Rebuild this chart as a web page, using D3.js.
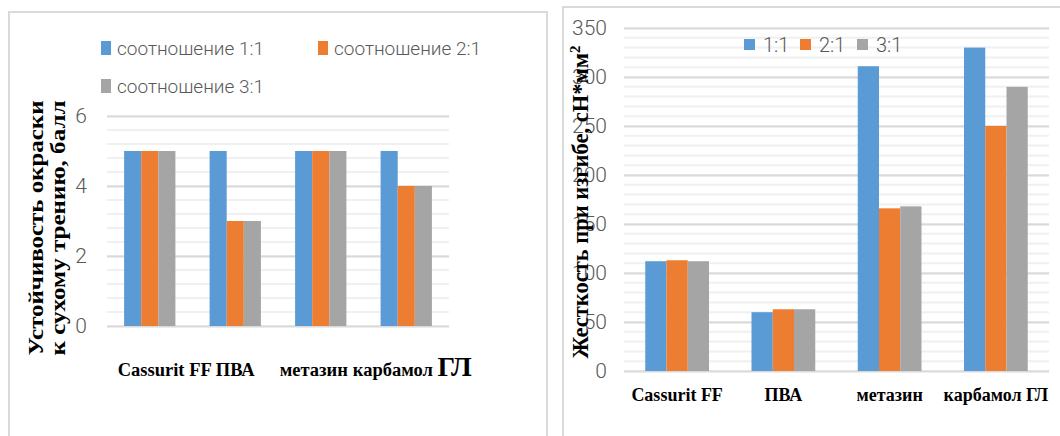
<!DOCTYPE html>
<html><head><meta charset="utf-8">
<script src="https://cdn.jsdelivr.net/npm/d3@7"></script>
<style>
html,body{margin:0;padding:0;background:#fff;}
svg{display:block;}
.tick text{font-family:"Roboto","Open Sans",sans-serif;font-weight:300;fill:#595959;}
.leg{font-family:"Roboto","Open Sans",sans-serif;font-weight:300;fill:#595959;}
.ser{font-family:"Liberation Serif","DejaVu Serif",serif;font-weight:bold;fill:#000;}
</style></head>
<body>
<svg id="c" width="1060" height="436"></svg>
<script>
// ---- data ----
const categories = ["Cassurit FF", "ПВА", "метазин", "карбамол ГЛ"];
const seriesKeys = ["1:1", "2:1", "3:1"];
const leftLegend = ["соотношение 1:1", "соотношение 2:1", "соотношение 3:1"];
const colors = ["#5B9BD5", "#ED7D31", "#A5A5A5"];
// Left chart: colour fastness to dry rubbing, points
const fast11 = [5, 5, 5, 5];
const fast21 = [5, 3, 5, 4];
const fast31 = [5, 3, 5, 4];
const leftTicks = [0, 2, 4, 6];
// Right chart: bending stiffness
const stiff11 = [112, 60, 311, 330];
const stiff21 = [113, 63, 166, 250];
const stiff31 = [112, 63, 168, 290];
const rightTicks = [0, 50, 100, 150, 200, 250, 300, 350];

const svg = d3.select("#c");

// panel borders
svg.append("rect").attr("x",9).attr("y",12).attr("width",538).attr("height",440)
  .attr("fill","none").attr("stroke","#d9d9d9").attr("stroke-width",2);
svg.append("rect").attr("x",563).attr("y",7).attr("width",510).attr("height",440)
  .attr("fill","none").attr("stroke","#d9d9d9").attr("stroke-width",2);

function chart(opt){
  const g = svg.append("g");
  const y = d3.scaleLinear().domain(opt.domain).range([opt.y0, opt.y1]);
  const x0 = d3.scaleBand().domain(categories).range([opt.x0, opt.x1]).paddingInner(0.4).paddingOuter(0.2);
  const x1 = d3.scaleBand().domain(seriesKeys).range([0, x0.bandwidth()]);
  // minor grid
  const minor = d3.range(opt.domain[0], opt.domain[1] + 1e-9, opt.minor);
  g.append("g").selectAll("line").data(minor).join("line")
    .attr("x1",opt.x0).attr("x2",opt.x1).attr("y1",d=>y(d)).attr("y2",d=>y(d))
    .attr("stroke","#f0f0f0").attr("stroke-width",2);
  // major grid + labels
  const ax = g.append("g").attr("transform",`translate(${opt.x0},0)`)
    .call(d3.axisLeft(y).tickValues(opt.ticks).tickFormat(d3.format("d"))
      .tickSize(-(opt.x1-opt.x0)).tickPadding(opt.tickPad));
  ax.select(".domain").remove();
  ax.selectAll(".tick line").attr("stroke","#d9d9d9").attr("stroke-width",2);
  ax.selectAll(".tick text").attr("font-size",opt.tickFont);
  // bars
  const data = categories.map((c,i)=>({c, vals: opt.series.map((s,k)=>({k:seriesKeys[k], v:s[i], col:colors[k]}))}));
  g.append("g").selectAll("g").data(data).join("g")
    .attr("transform",d=>`translate(${x0(d.c)},0)`)
    .selectAll("rect").data(d=>d.vals).join("rect")
    .attr("x",d=>x1(d.k)).attr("width",x1.bandwidth())
    .attr("y",d=>y(d.v)).attr("height",d=>y(0)-y(d.v))
    .attr("fill",d=>d.col);
  // x labels
  const xl = g.append("g").selectAll("text").data(categories).join("text")
    .attr("class","ser").attr("text-anchor","middle")
    .attr("x",(d,i)=>x0(d)+x0.bandwidth()/2+(opt.labShift?opt.labShift[i]:0)).attr("y",opt.xLabY)
    .attr("font-size",opt.xFont);
  xl.each(function(d){
    const t = d3.select(this);
    if (opt.bigGL && d.endsWith("ГЛ")) {
      t.append("tspan").text(d.slice(0,-2));
      t.append("tspan").attr("font-size",opt.xFont*1.5).text("ГЛ");
    } else t.text(d);
  });
  return {g,x0,y};
}

// LEFT CHART
const L = chart({domain:[0,6], y0:326, y1:116, x0:107, x1:449, minor:0.4, ticks:leftTicks,
  tickPad:20, tickFont:21, series:[fast11,fast21,fast31], xLabY:376, xFont:18.5, bigGL:true,
  labShift:[15,0,-7,6]});
// left y label
const ly = svg.append("text").attr("class","ser").attr("font-size",20).attr("text-anchor","middle")
  .attr("transform","rotate(-90)");
ly.append("tspan").attr("x",-228).attr("y",43).attr("textLength",255).attr("lengthAdjust","spacingAndGlyphs").text("Устойчивость окраски");
ly.append("tspan").attr("x",-228).attr("y",65).attr("textLength",255).attr("lengthAdjust","spacingAndGlyphs").text("к сухому трению, балл");
// left legend
const legPos = [[101,48],[318,48],[101,86]];
leftLegend.forEach((t,i)=>{
  svg.append("rect").attr("x",legPos[i][0]).attr("y",legPos[i][1]-7).attr("width",10).attr("height",14).attr("fill",colors[i]);
  svg.append("text").attr("class","leg").attr("x",legPos[i][0]+16).attr("y",legPos[i][1]+7)
    .attr("font-size",19).text(t);
});

// RIGHT CHART
const R = chart({domain:[0,350], y0:371, y1:28, x0:624, x1:1049, minor:10, ticks:rightTicks,
  tickPad:17, tickFont:21, series:[stiff11,stiff21,stiff31], xLabY:401, xFont:18, bigGL:false});
// right y label
const ry = svg.append("text").attr("class","ser").attr("font-size",22.5)
  .attr("text-anchor","middle").attr("transform","translate(588,202) rotate(-90)");
ry.append("tspan").text("Жесткость при изгибе, сН*мм");
ry.append("tspan").attr("baseline-shift","super").attr("font-size",15).text("2");
// right legend
const rLegX = [744, 800, 857];
seriesKeys.forEach((k,i)=>{
  svg.append("rect").attr("x",rLegX[i]).attr("y",39).attr("width",11).attr("height",11).attr("fill",colors[i]);
  svg.append("text").attr("class","leg").attr("x",rLegX[i]+19).attr("y",52).attr("font-size",20).text(k);
});
</script>
</body></html>
